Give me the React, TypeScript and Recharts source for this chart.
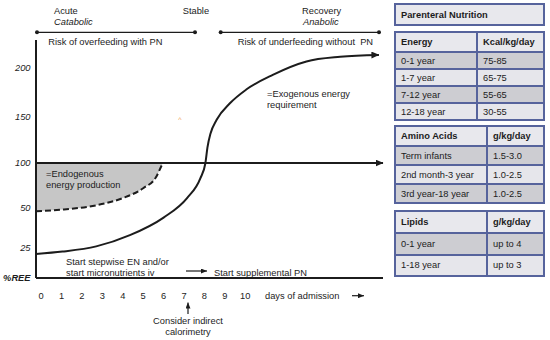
import React from "react";
import { ComposedChart, Line, Area, XAxis, YAxis } from "recharts";

// x: days of admission, y: %REE
const dayTicks = [0, 1, 2, 3, 4, 5, 6, 7, 8, 9, 10];
const reeTicks = [0, 25, 50, 100, 150, 200];

// horizontal 100 % REE line
const baseDays = [-0.25, 16.75];
const baseRee = [100, 100];

// endogenous energy production (dashed lower edge of the grey band)
const endoDays = [-0.25, 1.05, 2.7, 4, 5, 5.65, 5.9, 5.97];
const endoRee = [48, 49, 53, 61, 72, 85, 97, 100];

// exogenous energy requirement (solid S curve)
const exoDays = [-0.25, 1.05, 2.7, 4.35, 6, 7.15, 7.8, 8.05, 8.15, 8.3, 8.6, 9.25, 10.05, 11.35, 13, 14.65, 16.55];
const exoRee = [20, 22, 26, 33, 44, 61, 83, 100, 117, 132, 147, 164, 178, 193, 207, 212, 214];

// tables on the right
const energyAges = ["0-1 year", "1-7 year", "7-12 year", "12-18 year"];
const energyKcal = ["75-85", "65-75", "55-65", "30-55"];
const aminoAges = ["Term infants", "2nd month-3 year", "3rd year-18 year"];
const aminoDoses = ["1.5-3.0", "1.0-2.5", "1.0-2.5"];
const lipidAges = ["0-1 year", "1-18 year"];
const lipidDoses = ["up to 4", "up to 3"];

const FONT = "'Liberation Sans', Arial, sans-serif";
const FS = 9.3;
const INK = "#1c1c1c";
const BORDER = "#56639c";
const HEAD_BG = "#e8e8ed";
const DARK_BG = "#cdcdd2";
const LIGHT_BG = "#e6e6eb";

// the value axis of the sketch is hand drawn and not linear:
// knot values and their height (px) above the day axis
const Y_KNOTS = [0, 25, 50, 100, 150, 200, 230];
const Y_HEIGHTS = [0, 30, 70, 115, 161, 210, 238];

function sketchScale(domain: number[] = [0, 230], range: number[] = [1, 0]): any {
  let dom = domain;
  let rng = range;
  const top = Y_HEIGHTS[Y_HEIGHTS.length - 1];
  const frac = (v: number) => {
    let i = 0;
    while (i < Y_KNOTS.length - 2 && v > Y_KNOTS[i + 1]) i++;
    const t = (v - Y_KNOTS[i]) / (Y_KNOTS[i + 1] - Y_KNOTS[i]);
    return (Y_HEIGHTS[i] + t * (Y_HEIGHTS[i + 1] - Y_HEIGHTS[i])) / top;
  };
  const scale: any = (v: number) => rng[0] + (rng[1] - rng[0]) * frac(v);
  scale.domain = (d?: number[]) => {
    if (!d) return dom;
    dom = d;
    return scale;
  };
  scale.range = (r?: number[]) => {
    if (!r) return rng;
    rng = r;
    return scale;
  };
  scale.copy = () => sketchScale(dom, rng);
  scale.ticks = () => reeTicks;
  return scale;
}

const pairs = (xs: number[], ys: number[]) => xs.map((day, i) => ({ day, ree: ys[i] }));
const baseData = pairs(baseDays, baseRee);
const exoData = pairs(exoDays, exoRee);
const endoData = endoDays.map((day, i) => ({ day, ree: endoRee[i], band: [endoRee[i], 100] }));

const ReeTick = (props: any) => {
  const { x, y, payload } = props;
  const unit = payload.value === 0;
  return (
    <text x={x - 5.5} y={y} dy="0.35em" textAnchor="end" fontFamily={FONT} fontSize={FS}
      fontStyle="italic" fontWeight={unit ? "bold" : "normal"} fill={INK}>
      {unit ? "%REE" : payload.value}
    </text>
  );
};

const DayTick = (props: any) => {
  const { x, y, payload } = props;
  return (
    <text x={x} y={y + 21} textAnchor="middle" fontFamily={FONT} fontSize={FS} fill={INK}>
      {payload.value}
    </text>
  );
};

function T({ x, y, children, italic, anchor }: any) {
  return (
    <text x={x} y={y} fontFamily={FONT} fontSize={FS} fill={INK} fontStyle={italic ? "italic" : "normal"}
      textAnchor={anchor || "start"} style={{ whiteSpace: "pre" }}>
      {children}
    </text>
  );
}

function DoseTable({ top, split, headH, rowH, head, labels, values }: any) {
  const rows = [head, ...labels.map((l: string, i: number) => [l, values[i]])];
  return (
    <div style={{ position: "absolute", left: 394, top, width: 151, border: `2px solid ${BORDER}`,
      boxSizing: "border-box", fontFamily: FONT, fontSize: FS, color: INK }}>
      {rows.map((cells: string[], r: number) => (
        <div key={r} style={{ display: "flex", height: r === 0 ? headH : rowH, boxSizing: "border-box",
          borderTop: r === 0 ? "none" : `2px solid ${BORDER}`,
          background: r === 0 ? HEAD_BG : r % 2 === 1 ? DARK_BG : LIGHT_BG,
          fontWeight: r === 0 ? "bold" : "normal" }}>
          <div style={{ width: split, boxSizing: "border-box", borderRight: `2px solid ${BORDER}`,
            display: "flex", alignItems: "center", paddingLeft: 5 }}>{cells[0]}</div>
          <div style={{ display: "flex", alignItems: "center", paddingLeft: 5 }}>{cells[1]}</div>
        </div>
      ))}
    </div>
  );
}

export default function App() {
  return (
    <div style={{ position: "absolute", left: 0, top: 0, width: 550, height: 340, background: "#fff", overflow: "hidden" }}>
      <ComposedChart width={385} height={340} margin={{ top: 40, right: 2, bottom: 32, left: 0 }}>
        <XAxis type="number" dataKey="day" domain={[-0.25, 16.75]} ticks={dayTicks} interval={0}
          height={30} tickSize={0} tickMargin={0} tickLine={false}
          axisLine={{ stroke: INK, strokeWidth: 2 }} tick={DayTick} />
        <YAxis type="number" domain={[0, 230]} scale={sketchScale()} ticks={reeTicks} interval={0}
          width={36} tickSize={0} tickMargin={0} tickLine={false}
          axisLine={{ stroke: INK, strokeWidth: 2 }} tick={ReeTick} />
        <Area data={endoData} dataKey="band" type="monotone" stroke="none" fill="#c6c6c6" fillOpacity={1}
          activeDot={false} isAnimationActive={false} />
        <Line data={endoData} dataKey="ree" type="monotone" stroke={INK} strokeWidth={2} strokeDasharray="6 3"
          dot={false} activeDot={false} isAnimationActive={false} />
        <Line data={baseData} dataKey="ree" type="linear" stroke={INK} strokeWidth={2}
          markerEnd="url(#bigHead)" dot={false} activeDot={false} isAnimationActive={false} />
        <Line data={exoData} dataKey="ree" type="monotone" stroke={INK} strokeWidth={2}
          markerEnd="url(#bigHead)" dot={false} activeDot={false} isAnimationActive={false} />
      </ComposedChart>

      <svg width={385} height={340} style={{ position: "absolute", left: 0, top: 0, pointerEvents: "none" }}>
        <defs>
          <marker id="bigHead" viewBox="0 0 8 7" refX={7.5} refY={3.5} markerWidth={8} markerHeight={7}
            markerUnits="userSpaceOnUse" orient="auto">
            <path d="M0,0 L8,3.5 L0,7 Z" fill={INK} />
          </marker>
          <marker id="smallHead" viewBox="0 0 6 5" refX={6} refY={2.5} markerWidth={6} markerHeight={5}
            markerUnits="userSpaceOnUse" orient="auto">
            <path d="M0,0 L6,2.5 L0,5 Z" fill={INK} />
          </marker>
        </defs>

        <T x={54} y={13.5}>Acute</T>
        <T x={54} y={25} italic>Catabolic</T>
        <T x={182.7} y={13.5}>Stable</T>
        <T x={302} y={13.5}>Recovery</T>
        <T x={303} y={25} italic>Anabolic</T>

        <line x1={37} y1={32.3} x2={195} y2={32.3} stroke={INK} strokeWidth={1.2} />
        <circle cx={37} cy={32.3} r={2} fill={INK} />
        <circle cx={195} cy={32.3} r={2} fill={INK} />
        <line x1={220.7} y1={32.3} x2={379} y2={32.3} stroke={INK} strokeWidth={1.2} />
        <circle cx={220.7} cy={32.3} r={2} fill={INK} />
        <circle cx={379} cy={32.3} r={2} fill={INK} />

        <T x={48.3} y={44.7}>Risk of overfeeding with PN</T>
        <T x={237.7} y={44.7}>Risk of underfeeding without  PN</T>

        <T x={267} y={96.5}>=Exogenous energy</T>
        <T x={267} y={107.5}>requirement</T>
        <text x={180} y={121.5} textAnchor="middle" fontFamily={FONT} fontSize={7} fill="#f0a050">^</text>

        <T x={46} y={177}>=Endogenous</T>
        <T x={46} y={188}>energy production</T>

        <T x={66} y={264.5}>Start stepwise EN and/or</T>
        <T x={66} y={275.5}>start micronutrients iv</T>
        <line x1={186} y1={271} x2={207} y2={271} stroke={INK} strokeWidth={1.2} markerEnd="url(#smallHead)" />
        <T x={214} y={275.5}>Start supplemental PN</T>

        <T x={265} y={298.5}>days of admission</T>
        <line x1={352} y1={295.7} x2={364} y2={295.7} stroke={INK} strokeWidth={1.2} markerEnd="url(#smallHead)" />

        <line x1={188} y1={314} x2={188} y2={302.5} stroke={INK} strokeWidth={1.2} markerEnd="url(#smallHead)" />
        <T x={188} y={323.5} anchor="middle">Consider indirect</T>
        <T x={188} y={335} anchor="middle">calorimetry</T>
      </svg>

      <div style={{ position: "absolute", left: 394, top: 3, width: 151, height: 23, boxSizing: "border-box",
        border: `2px solid ${BORDER}`, background: HEAD_BG, fontFamily: FONT, fontSize: FS, fontWeight: "bold",
        color: INK, display: "flex", alignItems: "center", paddingLeft: 5 }}>
        Parenteral Nutrition
      </div>
      <DoseTable top={31} split={82} headH={18} rowH={17} head={["Energy", "Kcal/kg/day"]}
        labels={energyAges} values={energyKcal} />
      <DoseTable top={125} split={92} headH={18} rowH={19} head={["Amino Acids", "g/kg/day"]}
        labels={aminoAges} values={aminoDoses} />
      <DoseTable top={210} split={92} headH={20} rowH={21.5} head={["Lipids", "g/kg/day"]}
        labels={lipidAges} values={lipidDoses} />
    </div>
  );
}
